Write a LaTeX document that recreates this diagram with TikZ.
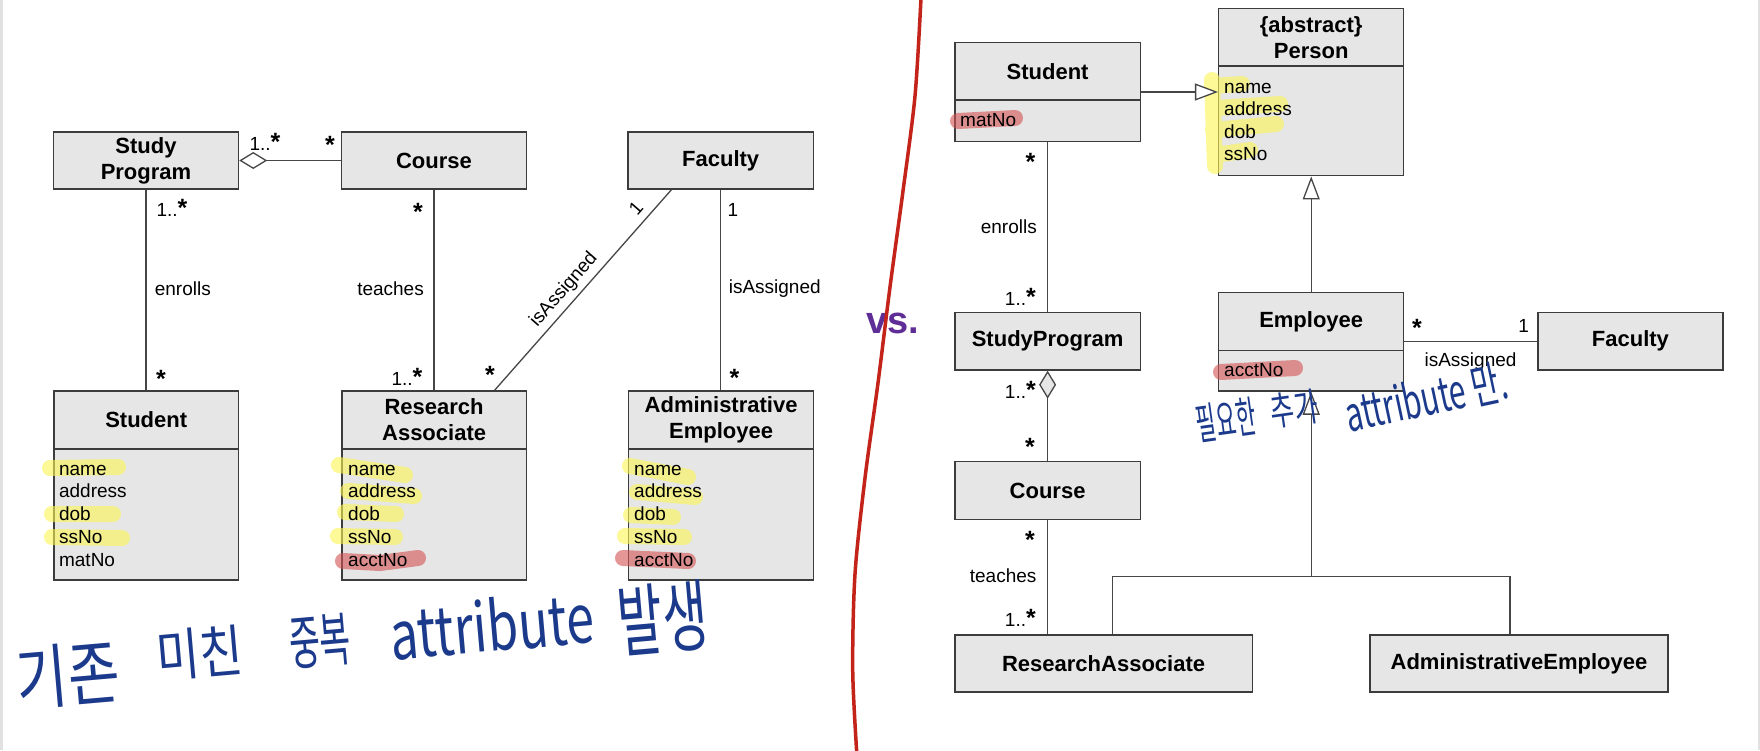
\documentclass[tikz,border=0pt]{standalone}
\usepackage{fontspec}
\setmainfont{Liberation Sans}
\newfontfamily\handfont{Noto Sans CJK KR}
\usetikzlibrary{arrows.meta}
\definecolor{boxfill}{RGB}{230,230,230}
\definecolor{boxline}{RGB}{60,60,60}
\definecolor{conncol}{RGB}{70,70,70}
\definecolor{hly}{RGB}{250,245,80}
\definecolor{hlr}{RGB}{212,80,80}
\definecolor{ink}{RGB}{28,58,140}
\definecolor{redline}{RGB}{195,35,25}
\definecolor{vscol}{RGB}{95,45,150}
\definecolor{edgecol}{RGB}{225,225,225}
\newcommand{\mstar}{{\fontsize{25}{25}\selectfont\bfseries *}}
\tikzset{
 cls/.style={draw=boxline, fill=boxfill, line width=1.5pt, inner sep=0pt, align=center, font=\fontsize{22}{26}\selectfont\bfseries},
 comp/.style={draw=boxline, fill=boxfill, line width=1.5pt, inner sep=0pt},
 attr/.style={anchor=base west, inner sep=0pt, font=\fontsize{19}{23}\selectfont},
 lbl/.style={inner sep=0pt, font=\fontsize{19}{23}\selectfont},
 conn/.style={draw=conncol, line width=1.3pt},
 agg/.style={conn, -{Diamond[fill=white, length=28pt, width=17pt]}},
 agggray/.style={conn, -{Diamond[fill=boxfill, length=28pt, width=17pt]}},
 gen/.style={conn, -{Triangle[fill=white, length=23pt, width=17pt]}},
 hlY/.style={draw=hly, line width=16pt, line cap=round},
 hlR/.style={draw=hlr, line width=16pt, line cap=round},
 hand/.style={text=ink, inner sep=0pt, transform shape},
}
\begin{document}
\begin{tikzpicture}[x=1pt,y=-1pt]
\useasboundingbox (0,0) rectangle (1760,750);
\fill[white] (0,0) rectangle (1760,750);
\fill[edgecol] (0,0) rectangle (3,750);
\fill[edgecol] (1758,0) rectangle (1760,750);

% ---------------- left diagram: boxes ----------------
\node[cls, minimum width=185pt, minimum height=57pt] (sp) at (146,160.5) {Study\\Program};
\node[cls, minimum width=185pt, minimum height=57pt] (crs) at (434,160.5) {Course};
\node[cls, minimum width=185.7pt, minimum height=57pt] (fac) at (720.7,160.5) {Faculty};

\node[comp, minimum width=184.6pt, minimum height=131pt] (stuA) at (146.2,514.5) {};
\node[cls, minimum width=184.6pt, minimum height=58pt] (stuH) at (146.2,420) {Student};
\node[comp, minimum width=184.6pt, minimum height=131pt] (raA) at (434.1,514.5) {};
\node[cls, minimum width=184.6pt, minimum height=58pt] (raH) at (434.1,420) {Research\\Associate};
\node[comp, minimum width=185.2pt, minimum height=131pt] (aeA) at (721.1,514.5) {};
\node[cls, minimum width=185.2pt, minimum height=58pt] (aeH) at (721.1,420) {Administrative\\Employee};

% ---------------- right diagram: boxes ----------------
\node[comp, minimum width=185.4pt, minimum height=41.7pt] (stu2A) at (1047.6,120.85) {};
\node[cls, minimum width=185.4pt, minimum height=57.3pt] (stu2H) at (1047.6,71.35) {Student};
\node[comp, minimum width=185pt, minimum height=109.7pt] (perA) at (1311.2,120.85) {};
\node[cls, minimum width=185pt, minimum height=57.7pt] (perH) at (1311.2,37.15) {\{abstract\}\\Person};
\node[cls, minimum width=185.4pt, minimum height=57.3pt] (sp2) at (1047.6,341.3) {StudyProgram};
\node[comp, minimum width=185pt, minimum height=40.3pt] (empA) at (1311.2,370.85) {};
\node[cls, minimum width=185pt, minimum height=58pt] (empH) at (1311.2,321.7) {Employee};
\node[cls, minimum width=184.8pt, minimum height=57.3pt] (fac2) at (1630.4,341.3) {Faculty};
\node[cls, minimum width=185.4pt, minimum height=57.6pt] (crs2) at (1047.6,490.5) {Course};
\node[cls, minimum width=297.3pt, minimum height=57pt] (ra2) at (1103.6,663.5) {ResearchAssociate};
\node[cls, minimum width=298pt, minimum height=57pt] (ae2) at (1519,663.5) {AdministrativeEmployee};

% ---------------- highlights ----------------
\begin{scope}[transparency group, opacity=0.6]
 % left Student
 \draw[hlY] (50,468) -- (118,467);
 \draw[hlY] (52,514) -- (113,514);
 \draw[hlY] (52,537) -- (122,538);
 % left Research Associate
 \draw[hlY] (339,465) -- (405,475);
 \draw[hlY] (348,491) -- (414,496);
 \draw[hlY] (345,512) -- (396,514);
 \draw[hlY] (338,536) -- (395,537);
 % left Administrative Employee
 \draw[hlY] (630,466) -- (688,477);
 \draw[hlY] (637,492) -- (695,497);
 \draw[hlY] (631,515) -- (673,517);
 \draw[hlY] (625,536) -- (684,537);
 % right Person
 \draw[hlY] (1212,80) -- (1215,166);
 \draw[hlY] (1213,86) -- (1242,84);
 \draw[hlY] (1215,108) -- (1280,104);
 \draw[hlY] (1213,130) -- (1276,124);
 \draw[hlY] (1215,155) -- (1250,150);
\end{scope}
\begin{scope}[transparency group, opacity=0.6]
 \draw[hlR] (343,561) -- (380,563) -- (418,558);
 \draw[hlR] (623,558) -- (688,561);
 \draw[hlR] (958,121) -- (1015,118);
 \draw[hlR] (1221,372) -- (1295,368);
\end{scope}

% ---------------- attributes ----------------
\node[attr] (s1) at (58.9,475) {name};
\node[attr] (s2) at (58.9,497.5) {address};
\node[attr] (s3) at (58.9,520) {dob};
\node[attr] (s4) at (58.9,543) {ssNo};
\node[attr] (s5) at (58.9,566.5) {matNo};
\node[attr] (r1) at (348,475) {name};
\node[attr] (r2) at (348,497.5) {address};
\node[attr] (r3) at (348,520) {dob};
\node[attr] (r4) at (348,543) {ssNo};
\node[attr] (r5) at (348,566.5) {acctNo};
\node[attr] (a1) at (634,475) {name};
\node[attr] (a2) at (634,497.5) {address};
\node[attr] (a3) at (634,520) {dob};
\node[attr] (a4) at (634,543) {ssNo};
\node[attr] (a5) at (634,566.5) {acctNo};
\node[attr] (p1) at (1224,93.3) {name};
\node[attr] (p2) at (1224,115.5) {address};
\node[attr] (p3) at (1224,138.3) {dob};
\node[attr] (p4) at (1224,160.7) {ssNo};
\node[attr] (m2) at (960,126.7) {matNo};
\node[attr] (e2) at (1224,376) {acctNo};

% ---------------- left connectors ----------------
\draw[agg] (crs.west) -- (sp.east);
\draw[conn] (sp.south) -- (sp.south |- stuH.north);
\draw[conn] (crs.south) -- (crs.south |- raH.north);
\draw[conn] (fac.south) -- (fac.south |- aeH.north);
\coordinate (d1) at ([xshift=-49.3pt]fac.south);
\coordinate (d2) at ([xshift=60.5pt]raH.north);
\draw[conn] (d1) -- (d2);

\node[lbl] (l1) at (265,142) {1..\mstar};
\node[lbl] (l2) at (330,145) {\mstar};
\node[lbl] (l3) at (172,208) {1..\mstar};
\node[lbl, anchor=west] (l4) at (154.6,289) {enrolls};
\node[lbl] (l5) at (161,379) {\mstar};
\node[lbl] (l6) at (418,212) {\mstar};
\node[lbl, anchor=east] (l7) at (424,289) {teaches};
\node[lbl] (l8) at (407,377) {1..\mstar};
\node[lbl] (l9) at (490,375) {\mstar};
\node[lbl, rotate=49] (l10) at (636,208) {1};
\node[lbl, rotate=48.8] (l11) at (564,290) {isAssigned};
\node[lbl] (l12) at (733,210) {1};
\node[lbl, anchor=west] (l13) at (728.6,289) {isAssigned};
\node[lbl] (l14) at (734.6,378) {\mstar};

% ---------------- right connectors ----------------
\coordinate (g1) at ([yshift=-20.65pt]stu2H.east);
\draw[gen] (g1) -- (g1 -| perA.west);
\draw[gen] (empH.north) -- (perA.south);
\draw[conn] (stu2A.south) -- (sp2.north);
\draw[agggray] (crs2.north) -- (sp2.south);
\draw[conn] (crs2.south) -- (crs2.south |- ra2.north);
\draw[conn] (fac2.west) -- (fac2.west -| empH.east);
\coordinate (j) at (1311.2,576.7);
\coordinate (jl) at (1112.8,576.7);
\coordinate (jr) at (1510,576.7);
\draw[gen] (j) -- (empA.south);
\draw[conn] (ra2.north -| jl) -- (jl) -- (jr) -- (ae2.north -| jr);

\node[lbl] (q1) at (1030.5,161.7) {\mstar};
\node[lbl, anchor=east] (q2) at (1037,226.7) {enrolls};
\node[lbl, anchor=east] (q3) at (1036,296.7) {1..\mstar};
\node[lbl, anchor=east] (q4) at (1036,390) {1..\mstar};
\node[lbl] (q5) at (1030,446.7) {\mstar};
\node[lbl] (q6) at (1030,540) {\mstar};
\node[lbl, anchor=east] (q7) at (1036.6,576) {teaches};
\node[lbl, anchor=east] (q8) at (1036,618.3) {1..\mstar};
\node[lbl] (q9) at (1417,328.3) {\mstar};
\node[lbl] (q10) at (1523.7,325.7) {1};
\node[lbl] (q11) at (1470.5,361.7) {isAssigned};

% ---------------- handwriting ----------------
\node[hand, rotate=5, yscale=1.25, font=\handfont\fontsize{56}{56}\selectfont] (h1) at (68,675) {기존};
\node[hand, rotate=5, yscale=1.2, font=\handfont\fontsize{47}{47}\selectfont] (h2) at (200,653) {미친};
\node[hand, rotate=5, xscale=0.8, yscale=1.4, font=\handfont\fontsize{42}{42}\selectfont] (h3) at (320,641) {중복};
\node[hand, rotate=5, yscale=1.35, font=\handfont\fontsize{50}{50}\selectfont] (h4) at (492,625) {attribute};
\node[hand, rotate=5, yscale=1.6, font=\handfont\fontsize{49}{49}\selectfont] (h5) at (663,618) {발생};
\node[hand, rotate=8, xscale=0.8, yscale=1.6, font=\handfont\fontsize{27}{27}\selectfont] (h6) at (1226,420) {필요한};
\node[hand, rotate=8, yscale=1.5, font=\handfont\fontsize{26}{26}\selectfont] (h7) at (1294,409) {추가};
\node[hand, rotate=12, yscale=1.6, font=\handfont\fontsize{30}{30}\selectfont] (h8) at (1426,397) {attribute 만.};

% ---------------- divider and vs. ----------------
\node[inner sep=0pt, text=vscol, font=\fontsize{38}{38}\selectfont\bfseries] (vs) at (893,323) {vs.};
\draw[redline, line width=3.5pt] plot[smooth] coordinates {(921,-2) (915,96) (903,191) (890,287) (878,383) (865,478) (855,574) (852.7,670) (856.7,752)};
\end{tikzpicture}
\end{document}
